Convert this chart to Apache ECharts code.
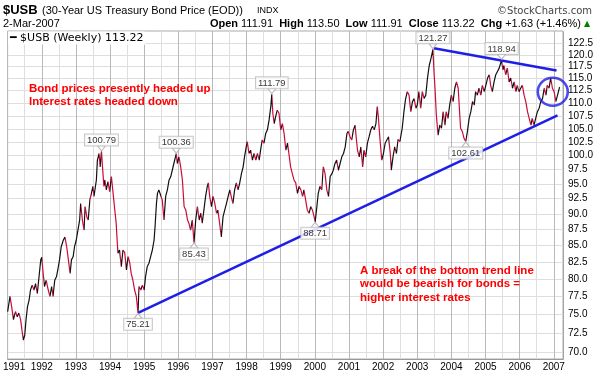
<!DOCTYPE html>
<html>
<head>
<meta charset="utf-8">
<script src="https://cdn.jsdelivr.net/npm/echarts@6/dist/echarts.min.js"></script>
<style>
  html, body { margin: 0; padding: 0; background: #fff; }
  #chart { width: 600px; height: 376px; }
</style>
</head>
<body>
<div id="chart"></div>
<script>
// $USB 周线收盘，时间用十进制年份
const dates = [
  1991.00, 1991.07, 1991.12, 1991.17, 1991.23, 1991.28, 1991.33, 1991.38, 1991.42, 1991.46,
  1991.50, 1991.54, 1991.58, 1991.63, 1991.67, 1991.72, 1991.77, 1991.82, 1991.87, 1991.92,
  1991.97, 1992.00, 1992.05, 1992.08, 1992.13, 1992.19, 1992.24, 1992.29, 1992.33, 1992.38,
  1992.43, 1992.47, 1992.52, 1992.57, 1992.63, 1992.68, 1992.73, 1992.78, 1992.83, 1992.87,
  1992.92, 1992.96, 1993.01, 1993.06, 1993.11, 1993.14, 1993.19, 1993.24, 1993.27, 1993.32,
  1993.36, 1993.41, 1993.45, 1993.50, 1993.53, 1993.60, 1993.63, 1993.68, 1993.71, 1993.75,
  1993.78, 1993.82, 1993.85, 1993.89, 1993.94, 1993.99, 1994.04, 1994.09, 1994.14, 1994.18,
  1994.23, 1994.28, 1994.33, 1994.38, 1994.43, 1994.48, 1994.53, 1994.58, 1994.62, 1994.67,
  1994.72, 1994.77, 1994.82, 1994.85, 1994.90, 1994.95, 1995.00, 1995.04, 1995.09, 1995.14,
  1995.19, 1995.24, 1995.29, 1995.32, 1995.36, 1995.39, 1995.43, 1995.48, 1995.53, 1995.58,
  1995.63, 1995.68, 1995.73, 1995.78, 1995.83, 1995.87, 1995.94, 1995.97, 1996.02, 1996.07,
  1996.12, 1996.17, 1996.22, 1996.27, 1996.31, 1996.36, 1996.41, 1996.46, 1996.51, 1996.56,
  1996.61, 1996.66, 1996.70, 1996.75, 1996.80, 1996.85, 1996.88, 1996.92, 1996.97, 1997.02,
  1997.07, 1997.12, 1997.16, 1997.21, 1997.26, 1997.31, 1997.36, 1997.41, 1997.46, 1997.51,
  1997.55, 1997.60, 1997.65, 1997.70, 1997.75, 1997.80, 1997.85, 1997.90, 1997.94, 1997.99,
  1998.02, 1998.07, 1998.12, 1998.17, 1998.22, 1998.27, 1998.32, 1998.37, 1998.41, 1998.46,
  1998.51, 1998.56, 1998.61, 1998.66, 1998.71, 1998.74, 1998.77, 1998.81, 1998.85, 1998.90,
  1998.95, 1999.00, 1999.05, 1999.10, 1999.15, 1999.20, 1999.24, 1999.29, 1999.34, 1999.39,
  1999.44, 1999.49, 1999.54, 1999.59, 1999.64, 1999.68, 1999.73, 1999.78, 1999.83, 1999.88,
  1999.93, 1999.98, 2000.01, 2000.06, 2000.10, 2000.15, 2000.20, 2000.25, 2000.30, 2000.35,
  2000.40, 2000.45, 2000.50, 2000.54, 2000.59, 2000.64, 2000.69, 2000.74, 2000.79, 2000.84,
  2000.89, 2000.94, 2000.98, 2001.03, 2001.08, 2001.13, 2001.18, 2001.21, 2001.25, 2001.30,
  2001.35, 2001.40, 2001.44, 2001.49, 2001.54, 2001.59, 2001.64, 2001.69, 2001.74, 2001.79,
  2001.83, 2001.86, 2001.91, 2001.96, 2002.01, 2002.06, 2002.11, 2002.16, 2002.21, 2002.24,
  2002.29, 2002.34, 2002.39, 2002.44, 2002.49, 2002.56, 2002.61, 2002.66, 2002.71, 2002.76,
  2002.81, 2002.86, 2002.91, 2002.96, 2003.00, 2003.05, 2003.10, 2003.15, 2003.20, 2003.25,
  2003.30, 2003.35, 2003.41, 2003.46, 2003.49, 2003.52, 2003.56, 2003.61, 2003.66, 2003.71,
  2003.76, 2003.81, 2003.85, 2003.90, 2003.95, 2004.00, 2004.05, 2004.10, 2004.15, 2004.20,
  2004.24, 2004.27, 2004.32, 2004.37, 2004.42, 2004.47, 2004.52, 2004.57, 2004.62, 2004.67,
  2004.71, 2004.76, 2004.81, 2004.86, 2004.91, 2004.96, 2005.01, 2005.06, 2005.11, 2005.15,
  2005.20, 2005.25, 2005.30, 2005.35, 2005.40, 2005.47, 2005.51, 2005.54, 2005.59, 2005.64,
  2005.69, 2005.74, 2005.79, 2005.84, 2005.89, 2005.93, 2005.98, 2006.03, 2006.08, 2006.13,
  2006.18, 2006.23, 2006.28, 2006.33, 2006.37, 2006.42, 2006.47, 2006.52, 2006.57, 2006.62,
  2006.67, 2006.72, 2006.77, 2006.81, 2006.86, 2006.91, 2006.96, 2007.01, 2007.06, 2007.11,
  2007.14, 2007.17
];
const prices = [
  75.4, 77.5, 76.0, 74.3, 75.4, 74.7, 75.2, 74.3, 72.9, 71.6,
  72.2, 74.3, 76.0, 77.0, 78.4, 79.1, 78.4, 79.3, 77.9, 80.3,
  82.8, 83.2, 80.3, 78.9, 79.8, 78.4, 77.5, 78.9, 77.5, 79.8,
  80.3, 81.3, 82.8, 84.8, 85.8, 86.3, 84.8, 82.8, 80.8, 82.8,
  83.3, 84.8, 85.8, 87.4, 89.0, 91.7, 89.0, 87.4, 91.2, 89.5,
  89.0, 92.3, 92.0, 94.6, 92.9, 95.7, 99.2, 100.4, 98.0, 100.79,
  98.0, 94.6, 95.7, 94.0, 95.4, 93.7, 96.3, 93.4, 90.6, 88.5,
  83.8, 84.3, 81.8, 84.3, 83.9, 81.3, 83.3, 82.3, 80.8, 79.8,
  78.4, 77.5, 75.21, 78.9, 78.4, 79.1, 78.4, 80.3, 81.8, 82.3,
  83.3, 84.3, 85.8, 88.0, 91.7, 93.4, 94.0, 94.3, 92.3, 89.0,
  92.9, 94.0, 95.7, 96.3, 96.6, 98.6, 100.36, 98.6, 99.8, 98.0,
  95.7, 91.2, 90.6, 89.0, 88.5, 87.4, 89.0, 85.43, 89.0, 91.2,
  89.0, 90.1, 88.5, 90.6, 92.9, 94.6, 95.2, 92.9, 91.2, 92.9,
  91.7, 90.1, 90.6, 88.5, 86.3, 89.5, 90.6, 91.7, 92.9, 94.0,
  92.9, 91.7, 94.0, 95.2, 94.0, 95.2, 96.8, 98.0, 99.8, 101.6,
  102.6, 100.4, 101.0, 99.2, 100.4, 99.2, 100.4, 99.2, 101.0, 102.9,
  102.3, 104.1, 104.8, 106.7, 109.3, 111.79, 108.0, 106.0, 107.3, 108.6,
  108.0, 104.8, 106.0, 104.1, 101.0, 102.3, 100.4, 98.0, 96.8, 95.7,
  95.2, 93.4, 94.6, 94.0, 92.9, 94.0, 92.3, 90.6, 90.1, 91.2,
  90.6, 89.5, 88.71, 91.2, 93.4, 94.6, 94.0, 98.0, 96.8, 94.0,
  92.9, 96.3, 96.8, 97.4, 98.6, 99.2, 97.4, 98.6, 99.8, 100.4,
  101.6, 104.1, 104.5, 103.5, 102.9, 104.8, 105.7, 103.5, 101.0, 99.8,
  101.6, 98.0, 101.0, 99.8, 102.3, 103.5, 104.8, 105.5, 104.8, 106.0,
  109.3, 107.3, 102.9, 99.2, 100.4, 102.3, 102.9, 103.5, 100.4, 97.4,
  99.8, 101.6, 100.4, 103.0, 102.6, 105.1, 108.3, 110.9, 112.3, 111.6,
  108.3, 110.3, 110.9, 109.0, 109.6, 112.3, 109.0, 112.3, 110.9, 111.6,
  115.1, 117.7, 119.5, 121.27, 116.5, 113.0, 107.6, 103.8, 105.7, 105.1,
  108.3, 105.7, 108.3, 107.0, 109.6, 111.6, 110.3, 113.0, 114.3, 113.0,
  108.3, 105.1, 104.5, 103.2, 102.61, 104.5, 107.0, 108.3, 110.3, 109.6,
  112.3, 111.6, 113.0, 111.6, 113.6, 112.3, 113.6, 115.1, 115.8, 113.6,
  112.3, 114.3, 115.8, 116.5, 117.2, 118.94, 116.8, 117.8, 115.8, 117.2,
  114.3, 115.1, 113.0, 114.3, 112.3, 113.6, 112.3, 113.0, 113.6, 111.6,
  110.3, 108.3, 107.0, 105.7, 107.0, 105.7, 107.0, 108.3, 109.0, 110.3,
  110.9, 113.0, 111.6, 113.6, 113.0, 115.1, 113.0, 112.3, 110.3, 111.6,
  112.0, 113.22
];
// 标注的高点 / 低点
const peakDates = [1993.75, 1995.94, 1998.74, 2003.46, 2005.47];
const peakValues = [100.79, 100.36, 111.79, 121.27, 118.94];
const troughDates = [1994.82, 1996.46, 2000.01, 2004.42];
const troughValues = [75.21, 85.43, 88.71, 102.61];
// 趋势线端点
const lowerTrend = [[1994.82, 75.21], [2007.11, 107.6]];
const upperTrend = [[2003.49, 121.5], [2007.08, 116.7]];
const circleAt = [[2006.97, 112.3]];
// 右侧刻度
const yTicks = [70, 72.5, 75, 77.5, 80, 82.5, 85, 87.5, 90, 92.5, 95, 97.5,
  100, 102.5, 105, 107.5, 110, 112.5, 115, 117.5, 120, 122.5];

const UP = '#111111';
const DOWN = '#cc0a3a';
const BLUE = '#1e1ee6';
const FONT = 'Liberation Sans';

// 涨为黑、跌为红：按每段方向分段着色
const pieces = [];
for (let i = 1; i < dates.length; i++) {
  pieces.push({
    gt: dates[i - 1],
    lte: dates[i],
    color: prices[i] >= prices[i - 1] ? UP : DOWN
  });
}

const chart = echarts.init(document.getElementById('chart'));

const calloutLabel = {
  show: true,
  formatter: p => p.value[1].toFixed(2),
  backgroundColor: '#fff',
  borderColor: '#bbb',
  borderWidth: 1,
  padding: [1, 2, 0, 2],
  color: '#000',
  fontFamily: FONT,
  fontSize: 9.5
};

const option = {
  animation: false,
  backgroundColor: '#fff',
  grid: { left: 7, right: 37, top: 31, bottom: 17, show: true, borderColor: '#aaa', borderWidth: 1 },
  visualMap: {
    show: false,
    type: 'piecewise',
    seriesIndex: 0,
    dimension: 0,
    pieces: pieces,
    outOfRange: { color: UP }
  },
  xAxis: {
    type: 'value',
    min: 1991,
    max: 2007.27,
    interval: 0.5,
    axisLine: { show: true, lineStyle: { color: '#999' } },
    axisTick: { show: false },
    axisLabel: {
      // 第一个年份靠左一点，避免被画布截掉
      formatter: v => (v === 1991 ? '{first|1991}' : Number.isInteger(v) ? String(v) : ''),
      color: '#000',
      fontFamily: FONT,
      fontSize: 10,
      margin: 3,
      rich: { first: { padding: [0, 0, 0, 13], fontFamily: FONT, fontSize: 10, color: '#000' } }
    },
    splitLine: { show: true, lineStyle: { color: ['#b9b9b9', '#dedede'], width: 1 } }
  },
  yAxis: {
    type: 'log',
    position: 'right',
    min: 69.19,
    max: 125.35,
    axisLine: { show: true, lineStyle: { color: '#999', type: 'dotted' } },
    axisTick: { show: false, customValues: yTicks },
    axisLabel: {
      customValues: yTicks,
      formatter: v => Number(v).toFixed(1),
      color: '#000',
      fontFamily: FONT,
      fontSize: 10,
      margin: 5
    },
    splitLine: { show: true, lineStyle: { color: '#dedede', width: 1 } }
  },
  series: [
    {
      type: 'line',
      data: dates.map((d, i) => [d, prices[i]]),
      showSymbol: false,
      symbol: 'none',
      lineStyle: { width: 1.2 },
      z: 3
    },
    {
      type: 'line',
      data: lowerTrend,
      symbol: 'none',
      lineStyle: { color: BLUE, width: 2.5 },
      z: 4
    },
    {
      type: 'line',
      data: upperTrend,
      symbol: 'none',
      lineStyle: { color: BLUE, width: 2.5 },
      z: 4
    },
    {
      type: 'scatter',
      data: circleAt,
      symbol: 'circle',
      symbolSize: [30, 28],
      itemStyle: { color: 'rgba(0,0,0,0)', borderColor: BLUE, borderWidth: 2.5 },
      z: 5
    },
    {
      type: 'scatter',
      data: peakDates.map((d, i) => [d, peakValues[i]]),
      symbol: 'triangle',
      symbolRotate: 180,
      symbolSize: [8, 5],
      symbolOffset: [0, -3],
      itemStyle: { color: '#fff', borderColor: '#aaa', borderWidth: 1 },
      label: Object.assign({ position: 'top', distance: 0 }, calloutLabel),
      z: 6
    },
    {
      type: 'scatter',
      data: troughDates.map((d, i) => [d, troughValues[i]]),
      symbol: 'triangle',
      symbolSize: [8, 5],
      symbolOffset: [0, 3],
      itemStyle: { color: '#fff', borderColor: '#aaa', borderWidth: 1 },
      label: Object.assign({ position: 'bottom', distance: 0 }, calloutLabel),
      z: 6
    }
  ],
  graphic: [
    { type: 'text', x: 3, y: 10, style: { text: '$USB', font: 'bold 13px "Liberation Sans"', fill: '#000', textVerticalAlign: 'middle' } },
    { type: 'text', x: 42, y: 11, style: { text: '(30-Year US Treasury Bond Price (EOD))', font: '11px "Liberation Sans"', fill: '#000', textVerticalAlign: 'middle' } },
    { type: 'text', x: 257, y: 11, style: { text: 'INDX', font: '9px "Liberation Sans"', fill: '#000', textVerticalAlign: 'middle' } },
    { type: 'text', x: 592, y: 11, style: { text: '©StockCharts.com', font: '10px "DejaVu Sans"', fill: '#444', textAlign: 'right', textVerticalAlign: 'middle' } },
    { type: 'text', x: 3, y: 24, style: { text: '2-Mar-2007', font: '11px "Liberation Sans"', fill: '#000', textVerticalAlign: 'middle' } },
    {
      type: 'text', x: 581, y: 24,
      style: {
        text: '{b|Open} 111.91  {b|High} 113.50  {b|Low} 111.91  {b|Close} 113.22  {b|Chg} +1.63 (+1.46%)',
        font: '11px "Liberation Sans"', fill: '#000', textAlign: 'right', textVerticalAlign: 'middle',
        rich: { b: { fontWeight: 'bold', fontSize: 11, fontFamily: FONT } }
      }
    },
    { type: 'text', x: 584, y: 24, style: { text: '▲', font: '8px "DejaVu Sans"', fill: '#008000', textVerticalAlign: 'middle' } },
    {
      type: 'text', x: 8, y: 38, z: 10,
      style: {
        text: '━ $USB (Weekly) 113.22', font: '11px "DejaVu Sans"', fill: '#000',
        textVerticalAlign: 'middle', backgroundColor: '#fff', padding: [1, 2, 1, 2]
      }
    },
    {
      type: 'text', x: 29, y: 82, z: 10,
      style: { text: 'Bond prices presently headed up\nInterest rates headed down', font: 'bold 11.5px "Liberation Sans"', fill: '#ff0000', lineHeight: 13.5, textVerticalAlign: 'top' }
    },
    {
      type: 'text', x: 360, y: 264, z: 10,
      style: { text: 'A break of the bottom trend line\nwould be bearish for bonds =\nhigher interest rates', font: 'bold 11.5px "Liberation Sans"', fill: '#ff0000', lineHeight: 13.5, textVerticalAlign: 'top' }
    }
  ]
};

chart.setOption(option);
</script>
</body>
</html>
